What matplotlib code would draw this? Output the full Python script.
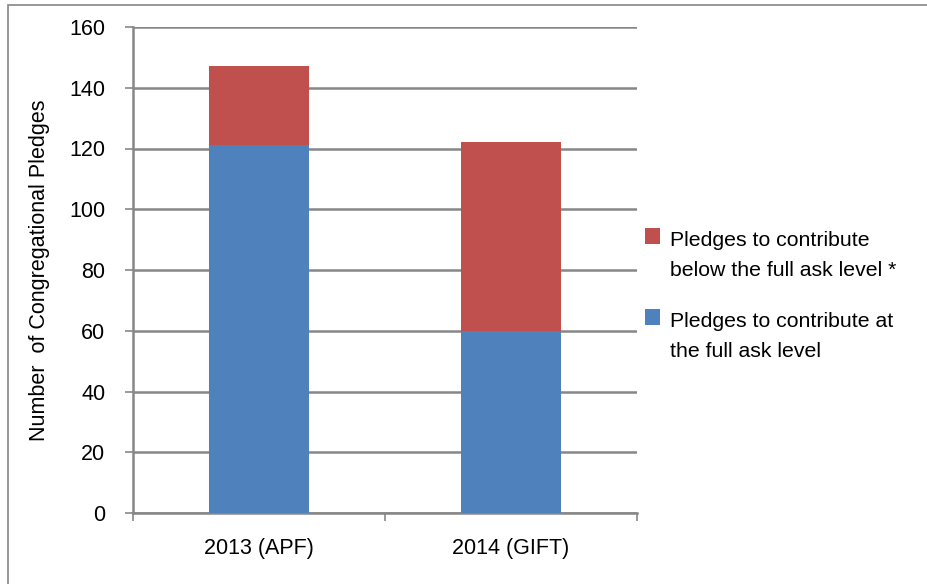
import matplotlib
matplotlib.use("Agg")
import matplotlib.pyplot as plt
from matplotlib.patches import Patch
from matplotlib import font_manager

categories = ["2013 (APF)", "2014 (GIFT)"]
full_ask = [121, 60]
below_ask = [26, 62]
yticks = [0, 20, 40, 60, 80, 100, 120, 140, 160]
legend_labels = ["Pledges to contribute\nbelow the full ask level *",
                 "Pledges to contribute at\nthe full ask level"]

names = {f.name for f in font_manager.fontManager.ttflist}
fam = [n for n in ["Liberation Sans Narrow", "Liberation Sans", "DejaVu Sans"] if n in names]
plt.rcParams['font.family'] = fam

blue = "#4F81BD"
red = "#C0504D"
grid = "#878787"

fig = plt.figure(figsize=(9.28, 5.84), dpi=100)
ax = fig.add_axes([133/928, 1-513/584, (637-133)/928, (513-27)/584])

x = list(range(len(categories)))
w = 0.4
ax.bar(x, full_ask, width=w, color=blue, zorder=3)
ax.bar(x, below_ask, width=w, bottom=full_ask, color=red, zorder=3)

ax.set_xlim(-0.5, 1.5)
ax.set_ylim(0, 160)
ax.set_yticks(yticks)
ax.set_yticklabels([str(v) for v in yticks], fontsize=15.5)
ax.yaxis.grid(True, color=grid, linewidth=1.8, zorder=0)
ax.set_axisbelow(True)

ax.set_xticks([-0.5, 0.5, 1.5])
ax.set_xticklabels([])
ax.set_xticks(x, minor=True)
ax.set_xticklabels(categories, minor=True, fontsize=15.5)
ax.tick_params(axis='x', which='minor', length=0, pad=18)
ax.tick_params(axis='x', which='major', length=6, color=grid, width=1.2)
ax.tick_params(axis='y', length=6, color=grid, width=1.2, pad=14)

for s in ["top", "right"]:
    ax.spines[s].set_visible(False)
ax.spines["left"].set_color(grid)
ax.spines["left"].set_linewidth(1.8)
ax.spines["bottom"].set_color(grid)
ax.spines["bottom"].set_linewidth(1.8)

ax.set_ylabel("Number  of Congregational Pledges", fontsize=15.5, labelpad=14)

handles = [Patch(facecolor=red), Patch(facecolor=blue)]
leg = fig.legend(handles, legend_labels, loc="upper left", bbox_to_anchor=(637/928, 1-222/584),
                 frameon=False, handlelength=0.7, handleheight=0.8,
                 handletextpad=0.45, labelspacing=1.5, borderaxespad=0,
                 prop={'size': 15.3})
for t in leg.get_texts():
    t.set_linespacing(1.75)
for h in leg.legend_handles:
    h.set_y(h.get_y() + 14)

# outer chart border (top and left visible; right/bottom run off the image)
border = plt.Rectangle((8/928, -0.05), 1.05, 1.05 - 5/584, transform=fig.transFigure,
                       fill=False, edgecolor="#868686", linewidth=1.2)
fig.patches.append(border)

fig.savefig("out.png", dpi=100)
